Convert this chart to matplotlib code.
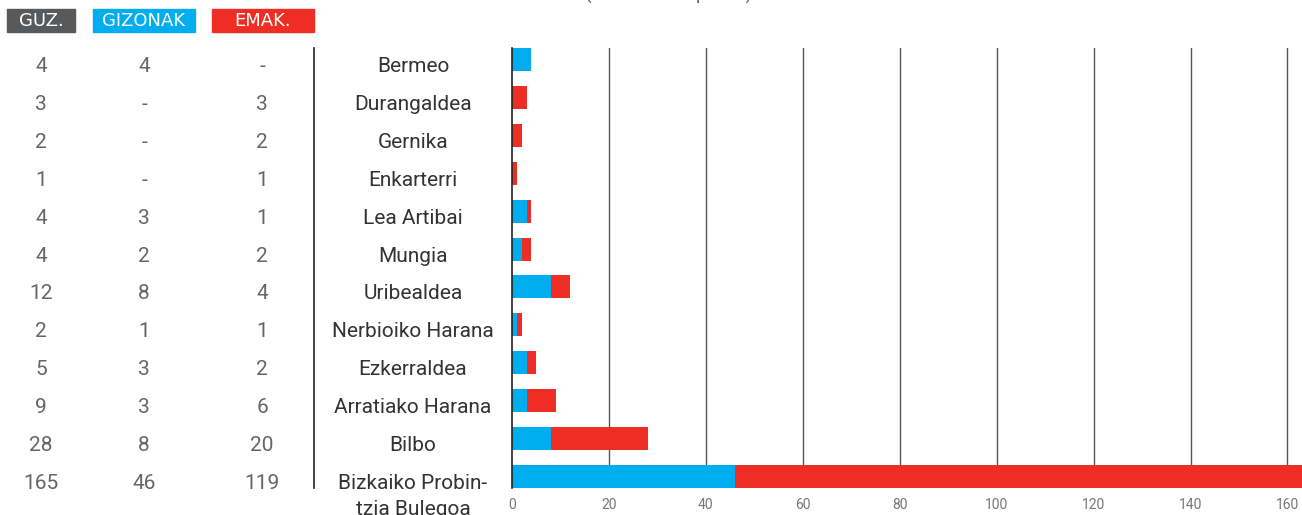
import matplotlib
matplotlib.use("Agg")
import matplotlib.pyplot as plt
from matplotlib.patches import Rectangle
from matplotlib.transforms import blended_transform_factory, offset_copy

plt.rcParams['font.family'] = ['Roboto', 'DejaVu Sans']

# datuak
eskualdeak = ["Bermeo", "Durangaldea", "Gernika", "Enkarterri", "Lea Artibai", "Mungia",
              "Uribealdea", "Nerbioiko Harana", "Ezkerraldea", "Arratiako Harana", "Bilbo",
              "Bizkaiko Probin-\ntzia Bulegoa"]
guztira = [4, 3, 2, 1, 4, 4, 12, 2, 5, 9, 28, 165]
gizonak = [4, 0, 0, 0, 3, 2, 8, 1, 3, 3, 8, 46]
emakumeak = [0, 3, 2, 1, 1, 2, 4, 1, 2, 6, 20, 119]
xtikak = [0, 20, 40, 60, 80, 100, 120, 140, 160]

GRIS = "#58595b"
URDIN = "#00adef"
GORRI = "#ee2e24"

W, H = 1302, 515
fig = plt.figure(figsize=(W / 100, H / 100), dpi=100)

def fx(px):
    return px / W

def fy(py):
    return 1 - py / H

# barren ardatza
ax = fig.add_axes([fx(512), fy(488), fx(1302) - fx(512), fy(48) - fy(488)])
n = len(eskualdeak)
ypos = list(range(n))
ax.barh(ypos, gizonak, height=0.607, color=URDIN, zorder=3)
ax.barh(ypos, emakumeak, left=gizonak, height=0.607, color=GORRI, zorder=3)
ax.set_ylim(n - 1 + 0.3035, -0.3035)
ax.set_xlim(0, 163)
ax.set_yticks([])
ax.set_xticks(xtikak)
ax.tick_params(axis='x', length=0, pad=7, labelsize=10, labelcolor="#777777")
for s in ["top", "right", "bottom"]:
    ax.spines[s].set_visible(False)
ax.spines["left"].set_color("#222222")
ax.spines["left"].set_linewidth(1.2)
ax.spines["left"].set_zorder(4)
for t in xtikak[1:]:
    ax.axvline(t, color="#555555", lw=1, zorder=1)

# taula (zenbakiak eta izenak)
tr = blended_transform_factory(fig.transFigure, ax.transData)
tr = offset_copy(tr, fig=fig, y=-7, units='dots')

def balioa(v):
    return "-" if v == 0 else str(v)

for i in range(n):
    ax.text(fx(41), i, balioa(guztira[i]), transform=tr, ha='center', va='center',
            fontsize=15, color="#666666")
    ax.text(fx(144), i, balioa(gizonak[i]), transform=tr, ha='center', va='center',
            fontsize=15, color="#666666")
    ax.text(fx(262), i, balioa(emakumeak[i]), transform=tr, ha='center', va='center',
            fontsize=15, color="#666666")
    lerroak = eskualdeak[i].split("\n")
    for j, l in enumerate(lerroak):
        trl = offset_copy(tr, fig=fig, y=-26 * j, units='dots')
        ax.text(fx(413), i, l, transform=trl, ha='center', va='center',
                fontsize=15, color="#333333")

# bereizlea
fig.add_artist(plt.Line2D([fx(314), fx(314)], [fy(48), fy(488)], color="#222222", lw=1.2))

# legenda koadroak
koadroak = [("GUZ.", 7, 75, GRIS), ("GIZONAK", 93, 195, URDIN), ("EMAK.", 212, 314, GORRI)]
for testua, x0, x1, kol in koadroak:
    fig.add_artist(Rectangle((fx(x0), fy(32)), fx(x1) - fx(x0), fy(9) - fy(32),
                             transform=fig.transFigure, color=kol))
    fig.text(fx((x0 + x1) / 2), fy(21), testua, ha='center', va='center',
             fontsize=13, color="white", family=['DejaVu Sans'])

# izenburua (goian moztuta)
fig.text(fx(669), fy(-0.5), "(Pertsona kopurua)", ha='center', va='baseline',
         fontsize=14, color="#666666")

fig.savefig("out.png", dpi=100)
